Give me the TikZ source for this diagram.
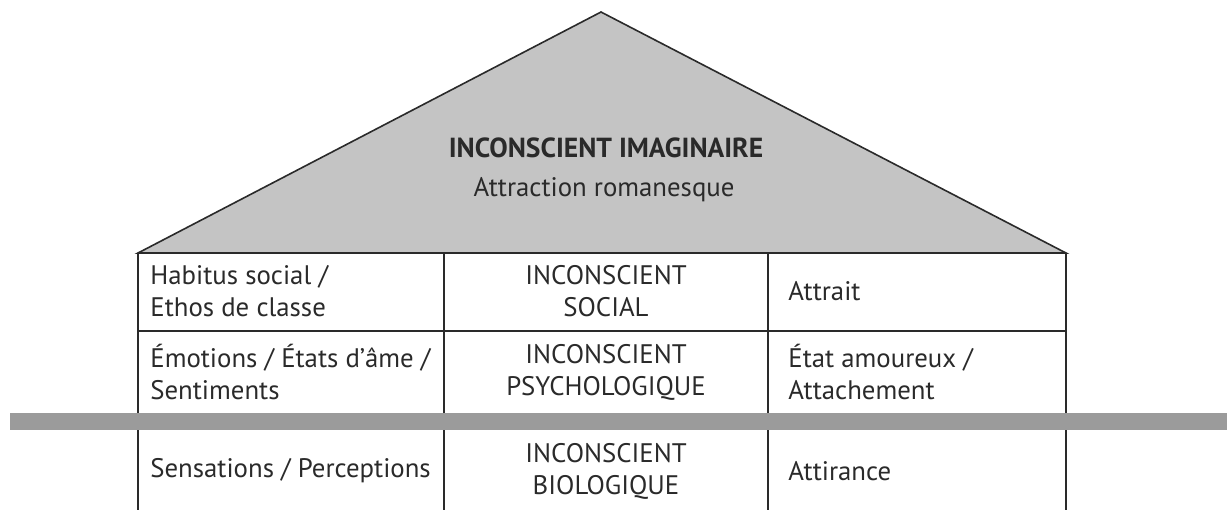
\documentclass[tikz,border=0pt]{standalone}
\usepackage{fontspec}
\setmainfont{PT Sans}
\definecolor{roof}{HTML}{C4C4C4}
\definecolor{band}{HTML}{9B9B9B}
\definecolor{ink}{HTML}{2A2A2A}
\begin{document}
\begin{tikzpicture}[x=0.5pt,y=-0.5pt,
  txt/.style={font=\fontsize{13.4}{16}\selectfont, text=ink, inner sep=0pt, align=left, anchor=west},
  ctr/.style={font=\fontsize{13.4}{16}\selectfont, text=ink, inner sep=0pt, align=center},
  grid/.style={draw=ink, line width=0.6pt}]
\useasboundingbox (0,0) rectangle (1227,510);
% roof
\coordinate (apex) at (601,12);
\coordinate (bl) at (138,253);
\coordinate (br) at (1066,253);
\filldraw[fill=roof, draw=ink, line width=0.8pt, line join=miter] (bl) -- (apex) -- (br) -- cycle;
\node[ctr, font=\fontsize{13.8}{16}\selectfont\bfseries] (title) at (606,148) {INCONSCIENT IMAGINAIRE};
\node[ctr] (sub) at (604,190) {Attraction romanesque};
% table lines
\draw[grid] (138,253) -- (138,510);
\draw[grid] (444,253) -- (444,510);
\draw[grid] (768,253) -- (768,510);
\draw[grid] (1066,253) -- (1066,510);
\draw[grid] (138,331) -- (1066,331);
% band
\fill[band] (10,413) rectangle (1227,430);
% texts
\node[txt] (a1) at (150,291) {Habitus social /\\Ethos de classe};
\node[ctr] (b1) at (606,291) {INCONSCIENT\\SOCIAL};
\node[txt] (c1) at (788,291) {Attrait};
\node[txt] (a2) at (150,372) {Émotions / États d’âme /\\Sentiments};
\node[ctr] (b2) at (606,372) {INCONSCIENT\\PSYCHOLOGIQUE};
\node[txt] (c2) at (788,372) {État amoureux /\\Attachement};
\node[txt] (a3) at (150,471) {Sensations / Perceptions};
\node[ctr] (b3) at (606,471) {INCONSCIENT\\BIOLOGIQUE};
\node[txt] (c3) at (788,471) {Attirance};
\end{tikzpicture}
\end{document}
